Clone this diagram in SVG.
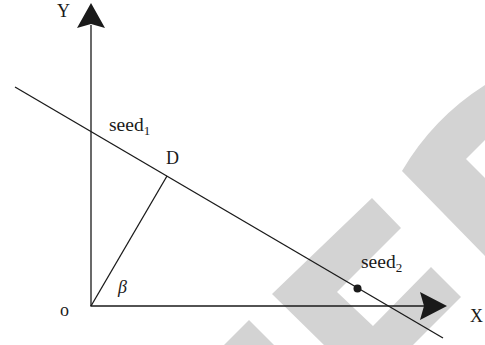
<svg xmlns="http://www.w3.org/2000/svg" width="485" height="345" viewBox="0 0 485 345">
  <style>
    .ln { stroke: #1a1a1a; stroke-width: 1.3; fill: none; }
    .ah { fill: #1a1a1a; stroke: none; }
    .wm { fill: #d3d3d3; stroke: none; }
    text { font-family: "Liberation Serif", "Times New Roman", serif; font-size: 18px; fill: #1a1a1a; }
    .seed { font-size: 19.5px; }
    .sub { font-size: 13px; }
  </style>
  <rect x="0" y="0" width="485" height="345" fill="#ffffff"/>
  <g id="watermark">
    <path class="wm" d="M485,85 Q433,118 402,171 L485,256 L485,178 L466,159 L485,140 Z"/>
    <path class="wm" d="M372,198 L401,228 L337,292 L373,326 L431,267 L461,297 L413,345 L324,345 L272,294 Z"/>
    <path class="wm" d="M249,320 L274,345 L224,345 Z"/>
  </g>
  <g id="connectors">
    <line class="ln" x1="91" y1="306" x2="91" y2="25"/>
    <line class="ln" x1="90.4" y1="306" x2="425" y2="306"/>
    <line class="ln" x1="15" y1="87" x2="443" y2="338"/>
    <line class="ln" x1="91" y1="306" x2="167" y2="176"/>
    <path class="ah" d="M91,3 L105,28 L91,24 L77,28 Z"/>
    <path class="ah" d="M447,306 L420,320 L424,306 L420,292 Z"/>
  </g>
  <g id="node-seed2">
    <circle cx="357.5" cy="288.5" r="4" fill="#1a1a1a"/>
    <text class="seed" x="361" y="268">seed<tspan class="sub" dy="4">2</tspan></text>
  </g>
  <g id="node-seed1">
    <text class="seed" x="109" y="131">seed<tspan class="sub" dy="4">1</tspan></text>
  </g>
  <g id="node-D"><text x="166" y="164">D</text></g>
  <g id="node-Y"><text x="57" y="17">Y</text></g>
  <g id="node-X"><text x="470" y="322">X</text></g>
  <g id="node-o"><text x="60" y="316">o</text></g>
  <g id="node-beta"><text x="118" y="293" font-style="italic">β</text></g>
</svg>
